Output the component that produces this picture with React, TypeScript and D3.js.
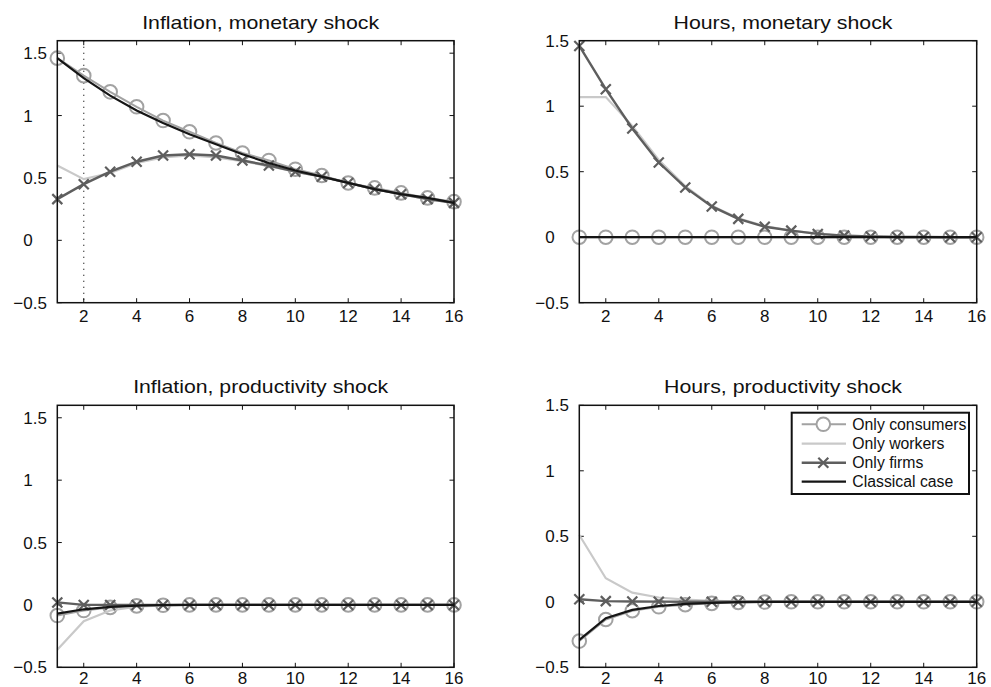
import React from "react";
import * as d3 from "d3";

const periods = [1, 2, 3, 4, 5, 6, 7, 8, 9, 10, 11, 12, 13, 14, 15, 16];
const xTicks = [2, 4, 6, 8, 10, 12, 14, 16];
const yTicks = [-0.5, 0, 0.5, 1, 1.5];
const seriesNames = ["Only consumers", "Only workers", "Only firms", "Classical case"];
const titles = [
  "Inflation, monetary shock",
  "Hours, monetary shock",
  "Inflation, productivity shock",
  "Hours, productivity shock",
];

// Inflation, monetary shock
const consumers1 = [1.46, 1.32, 1.19, 1.07, 0.96, 0.87, 0.78, 0.7, 0.64, 0.57, 0.52, 0.46, 0.42, 0.38, 0.34, 0.31];
const workers1 = [0.6, 0.49, 0.54, 0.62, 0.665, 0.68, 0.665, 0.635, 0.595, 0.55, 0.51, 0.46, 0.41, 0.37, 0.33, 0.3];
const firms1 = [0.33, 0.45, 0.55, 0.63, 0.68, 0.69, 0.68, 0.64, 0.6, 0.55, 0.51, 0.46, 0.41, 0.37, 0.33, 0.3];
const classical1 = [1.46, 1.3, 1.16, 1.04, 0.94, 0.85, 0.77, 0.69, 0.62, 0.56, 0.51, 0.46, 0.41, 0.37, 0.34, 0.3];

// Hours, monetary shock
const consumers2 = [0, 0, 0, 0, 0, 0, 0, 0, 0, 0, 0, 0, 0, 0, 0, 0];
const workers2 = [1.07, 1.07, 0.85, 0.59, 0.39, 0.24, 0.145, 0.085, 0.05, 0.027, 0.013, 0.006, 0.003, 0.001, 0, 0];
const firms2 = [1.46, 1.13, 0.83, 0.57, 0.38, 0.235, 0.14, 0.08, 0.05, 0.025, 0.012, 0.005, 0.002, 0.001, 0, 0];
const classical2 = [0, 0, 0, 0, 0, 0, 0, 0, 0, 0, 0, 0, 0, 0, 0, 0];

// Inflation, productivity shock
const consumers3 = [-0.085, -0.045, -0.02, -0.008, -0.003, 0, 0, 0, 0, 0, 0, 0, 0, 0, 0, 0];
const workers3 = [-0.36, -0.13, -0.045, -0.013, -0.004, 0, 0, 0, 0, 0, 0, 0, 0, 0, 0, 0];
const firms3 = [0.02, 0, 0, 0, 0, 0, 0, 0, 0, 0, 0, 0, 0, 0, 0, 0];
const classical3 = [-0.07, -0.035, -0.015, -0.006, -0.002, 0, 0, 0, 0, 0, 0, 0, 0, 0, 0, 0];

// Hours, productivity shock
const consumers4 = [-0.3, -0.135, -0.068, -0.038, -0.022, -0.012, -0.005, -0.002, 0, 0, 0, 0, 0, 0, 0, 0];
const workers4 = [0.51, 0.18, 0.07, 0.033, 0.016, 0.008, 0.003, 0.001, 0, 0, 0, 0, 0, 0, 0, 0];
const firms4 = [0.02, 0.005, 0.002, 0.001, 0, 0, 0, 0, 0, 0, 0, 0, 0, 0, 0, 0];
const classical4 = [-0.29, -0.125, -0.062, -0.032, -0.016, -0.008, -0.003, -0.001, 0, 0, 0, 0, 0, 0, 0, 0];

const panelData = [
  [consumers1, workers1, firms1, classical1],
  [consumers2, workers2, firms2, classical2],
  [consumers3, workers3, firms3, classical3],
  [consumers4, workers4, firms4, classical4],
];

const FONT = "'Liberation Sans', Arial, Helvetica, sans-serif";
const C_CONS = "#a2a2a2";
const C_WORK = "#c9c9c9";
const C_FIRM = "#5e5e5e";
const C_CLAS = "#151515";

const panels = [
  { left: 57.3, right: 454, top: 40.7, bottom: 302.7, ymax: 1.6, titleY: 28.5, titleW: 237, dotted: 2, xlab: 19 },
  { left: 579.3, right: 976.7, top: 40.7, bottom: 302.7, ymax: 1.5, titleY: 28.5, titleW: 219, dotted: null, xlab: 19 },
  { left: 57.3, right: 454, top: 405.3, bottom: 667.3, ymax: 1.6, titleY: 392.7, titleW: 255, dotted: null, xlab: 16.5 },
  { left: 579.3, right: 976.7, top: 405.3, bottom: 667.3, ymax: 1.5, titleY: 392.7, titleW: 238, dotted: null, xlab: 16.5 },
];

function XMark({ x, y, s, color, w }: { x: number; y: number; s: number; color: string; w: number }) {
  return (
    <path
      d={`M${x - s},${y - s}L${x + s},${y + s}M${x - s},${y + s}L${x + s},${y - s}`}
      stroke={color}
      strokeWidth={w}
      fill="none"
    />
  );
}

function fmt(v: number) {
  return String(Math.abs(v));
}

function Panel({ idx }: { idx: number }) {
  const p = panels[idx];
  const [cons, work, firm, clas] = panelData[idx];
  const x = d3.scaleLinear().domain([1, 16]).range([p.left, p.right]);
  const y = d3.scaleLinear().domain([-0.5, p.ymax]).range([p.bottom, p.top]);
  const line = d3
    .line<number>()
    .x((_, i) => x(periods[i]))
    .y((d) => y(d));
  const tick = 4.5;
  const labelX = p.left - 34;
  const cx = (p.left + p.right) / 2 + 5;
  return (
    <g>
      <text
        x={cx}
        y={p.titleY}
        textAnchor="middle"
        fontFamily={FONT}
        fontSize={19}
        textLength={p.titleW}
        lengthAdjust="spacingAndGlyphs"
        fill="#111"
      >
        {titles[idx]}
      </text>
      <rect x={p.left} y={p.top} width={p.right - p.left} height={p.bottom - p.top} fill="#fff" />
      {xTicks.map((t) => (
        <g key={"xt" + t}>
          <line x1={x(t)} x2={x(t)} y1={p.bottom} y2={p.bottom - tick} stroke="#111" strokeWidth={1} />
          <line x1={x(t)} x2={x(t)} y1={p.top} y2={p.top + tick} stroke="#111" strokeWidth={1} />
          <text x={x(t)} y={p.bottom + p.xlab} textAnchor="middle" fontFamily={FONT} fontSize={17} fill="#111">
            {t}
          </text>
        </g>
      ))}
      {yTicks.map((t) => (
        <g key={"yt" + t}>
          <line x1={p.left} x2={p.left + tick} y1={y(t)} y2={y(t)} stroke="#111" strokeWidth={1} />
          <line x1={p.right} x2={p.right - tick} y1={y(t)} y2={y(t)} stroke="#111" strokeWidth={1} />
          {t < 0 && (
            <text x={labelX} y={y(t) + 6} textAnchor="end" fontFamily={FONT} fontSize={17} fill="#111">
              {"\u2212"}
            </text>
          )}
          <text x={labelX} y={y(t) + 6} textAnchor="start" fontFamily={FONT} fontSize={17} fill="#111">
            {fmt(t)}
          </text>
        </g>
      ))}
      {p.dotted !== null && (
        <line
          x1={x(p.dotted as number)}
          x2={x(p.dotted as number)}
          y1={p.top}
          y2={p.bottom}
          stroke="#111"
          strokeWidth={1.2}
          strokeDasharray="1,5"
        />
      )}
      <path d={line(cons) || ""} fill="none" stroke={C_CONS} strokeWidth={2} />
      {cons.map((v, i) => (
        <circle key={"c" + i} cx={x(periods[i])} cy={y(v)} r={6.8} fill="none" stroke={C_CONS} strokeWidth={2} />
      ))}
      <path d={line(work) || ""} fill="none" stroke={C_WORK} strokeWidth={2.2} />
      <path d={line(firm) || ""} fill="none" stroke={C_FIRM} strokeWidth={2.4} />
      {firm.map((v, i) => (
        <XMark key={"f" + i} x={x(periods[i])} y={y(v)} s={5} color={C_FIRM} w={2.2} />
      ))}
      <path d={line(clas) || ""} fill="none" stroke={C_CLAS} strokeWidth={2.2} />
      <rect
        x={p.left}
        y={p.top}
        width={p.right - p.left}
        height={p.bottom - p.top}
        fill="none"
        stroke="#111"
        strokeWidth={1.5}
      />
    </g>
  );
}

function Legend() {
  const lx = 791.7;
  const ly = 412.7;
  const w = 177.3;
  const h = 81.3;
  const rows = [424.3, 443.7, 462.7, 481.7];
  const x1 = 801.7;
  const x2 = 846;
  const mx = 823.3;
  const tx = 852.3;
  const styles = [
    { c: C_CONS, w: 2, m: "o" },
    { c: C_WORK, w: 2.2, m: "" },
    { c: C_FIRM, w: 2.4, m: "x" },
    { c: C_CLAS, w: 2.2, m: "" },
  ];
  return (
    <g>
      <rect x={lx} y={ly} width={w} height={h} fill="#fff" stroke="#111" strokeWidth={2} />
      {seriesNames.map((n, i) => (
        <g key={n}>
          <line x1={x1} x2={x2} y1={rows[i]} y2={rows[i]} stroke={styles[i].c} strokeWidth={styles[i].w} />
          {styles[i].m === "o" && (
            <circle cx={mx} cy={rows[i]} r={6.8} fill="#fff" stroke={styles[i].c} strokeWidth={2} />
          )}
          {styles[i].m === "x" && <XMark x={mx} y={rows[i]} s={5} color={styles[i].c} w={2.2} />}
          <text x={tx} y={rows[i] + 5.5} fontFamily={FONT} fontSize={15.8} fill="#111">
            {n}
          </text>
        </g>
      ))}
    </g>
  );
}

export default function App() {
  return (
    <div style={{ position: "fixed", left: 0, top: 0 }}>
      <svg width={991} height={687} style={{ display: "block", background: "#fff" }}>
        <rect x={0} y={0} width={991} height={687} fill="#fff" />
        {panels.map((_, i) => (
          <Panel key={i} idx={i} />
        ))}
        <Legend />
      </svg>
    </div>
  );
}
